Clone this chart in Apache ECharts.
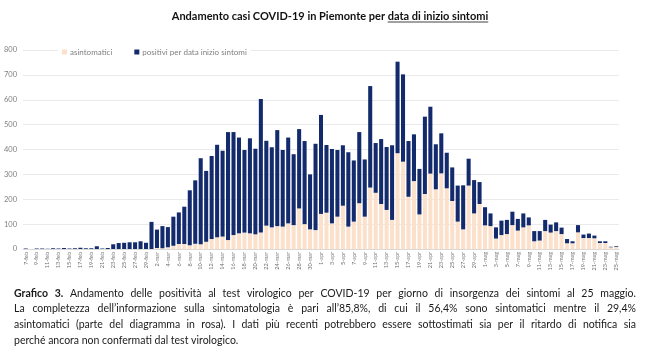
<!DOCTYPE html>
<html>
<head>
<meta charset="utf-8">
<script src="https://cdn.jsdelivr.net/npm/echarts@6/dist/echarts.min.js"></script>
<style>html,body{margin:0;padding:0;background:#fff}#c{width:650px;height:351px}</style>
</head>
<body>
<div id="c"></div>
<script>
const categories = [
'7-feb','8-feb','9-feb','10-feb','11-feb','12-feb','13-feb','14-feb','15-feb','16-feb','17-feb','18-feb','19-feb','20-feb','21-feb','22-feb','23-feb','24-feb','25-feb','26-feb','27-feb','28-feb','29-feb',
'1-mar','2-mar','3-mar','4-mar','5-mar','6-mar','7-mar','8-mar','9-mar','10-mar','11-mar','12-mar','13-mar','14-mar','15-mar','16-mar','17-mar','18-mar','19-mar','20-mar','21-mar','22-mar','23-mar','24-mar','25-mar','26-mar','27-mar','28-mar','29-mar','30-mar','31-mar',
'1-apr','2-apr','3-apr','4-apr','5-apr','6-apr','7-apr','8-apr','9-apr','10-apr','11-apr','12-apr','13-apr','14-apr','15-apr','16-apr','17-apr','18-apr','19-apr','20-apr','21-apr','22-apr','23-apr','24-apr','25-apr','26-apr','27-apr','28-apr','29-apr','30-apr',
'1-mag','2-mag','3-mag','4-mag','5-mag','6-mag','7-mag','8-mag','9-mag','10-mag','11-mag','12-mag','13-mag','14-mag','15-mag','16-mag','17-mag','18-mag','19-mag','20-mag','21-mag','22-mag','23-mag','24-mag','25-mag'
];
const asintomatici = [
0,0,0,0,0,0,0,0,0,0,0,0,0,0,0,0,0,0,0,0,0,0,0,
0,4,3,7,13,20,20,15,21,19,29,40,47,50,36,56,63,66,63,59,66,94,87,92,90,103,96,163,100,79,76,
141,146,103,130,174,90,110,184,130,247,226,181,157,117,385,351,210,273,139,221,303,240,304,244,193,110,79,255,143,181,
95,92,42,56,60,96,74,87,95,31,34,72,66,72,60,23,23,67,44,44,43,24,24,7,8
];
const positivi = [
2,0,2,2,1,3,2,4,2,3,5,3,3,11,2,4,19,24,25,27,27,31,25,
109,74,89,81,117,127,150,221,255,346,285,334,372,345,434,414,385,332,382,344,537,341,322,386,308,345,285,319,334,221,347,
398,272,299,268,243,299,246,286,230,408,200,261,253,300,368,351,224,188,183,311,269,181,161,143,135,145,177,108,134,88,
73,51,45,58,57,54,47,56,32,41,38,45,32,35,26,17,8,29,14,18,11,7,7,2,3
];
const yTicks = [0,100,200,300,400,500,600,700,800];
const legendNames = ['asintomatici','positivi per data inizio sintomi'];
const titleA = 'Andamento casi COVID-19 in Piemonte per ';
const titleB = 'data di inizio sintomi';
const captionLines = [
'Grafico 3. Andamento delle positività al test virologico per COVID-19 per giorno di insorgenza dei sintomi al 25 maggio.',
'La completezza dell\u2019informazione sulla sintomatologia è pari all\u201985,8%, di cui il 56,4% sono sintomatici mentre il 29,4%',
'asintomatici (parte del diagramma in rosa). I dati più recenti potrebbero essere sottostimati sia per il ritardo di notifica sia',
'perché ancora non confermati dal test virologico.'
];

const FAM = 'Lato, "Noto Sans", sans-serif';
const mctx = document.createElement('canvas').getContext('2d');
function tw(t, font){ mctx.font = font; return mctx.measureText(t).width; }

const titleFont = 'bold 11px ' + FAM;
const wA = tw(titleA, titleFont), wB = tw(titleB, titleFont);
const titleCenter = 330, titleY = 16;
const tStart = titleCenter - (wA + wB) / 2;

const graphics = [];
graphics.push({type:'text', x:tStart, y:titleY, style:{text:titleA + titleB, font:titleFont, fill:'#111', textVerticalAlign:'middle'}});
graphics.push({type:'line', shape:{x1:tStart + wA, y1:titleY + 6, x2:tStart + wA + wB, y2:titleY + 6}, style:{stroke:'#111', lineWidth:0.8}});

const capLeft = 14, capRight = 636, capTop = 293.5, capStep = 15.6;
const fN = '10.5px ' + FAM, fB = 'bold 10.5px ' + FAM;
captionLines.forEach(function(line, li){
  const words = line.split(' ');
  const fonts = words.map(function(w, i){ return (li === 0 && i < 2) ? fB : fN; });
  const widths = words.map(function(w, i){ return tw(w, fonts[i]); });
  const sum = widths.reduce(function(a,b){return a+b;}, 0);
  const last = li === captionLines.length - 1;
  const gap = last ? tw(' ', fN) : (capRight - capLeft - sum) / (words.length - 1);
  let x = capLeft;
  const y = capTop + li * capStep;
  words.forEach(function(w, i){
    graphics.push({type:'text', x:x, y:y, style:{text:w, font:fonts[i], fill:'#1a1a1a', textVerticalAlign:'middle'}});
    x += widths[i] + gap;
  });
});

const chart = echarts.init(document.getElementById('c'), null, {renderer:'canvas'});
chart.setOption({
  animation:false,
  grid:{left:23, right:31, top:50, bottom:102, containLabel:false},
  legend:{data:legendNames, left:58, top:46, icon:'rect', itemWidth:5, itemHeight:5, itemGap:22,
    padding:[2,4], backgroundColor:'#ffffff',
    textStyle:{fontSize:8, color:'#7f7f7f', fontFamily:FAM, padding:[0,0,0,-2]}},
  xAxis:{type:'category', data:categories,
    axisTick:{show:false}, axisLine:{show:true, lineStyle:{color:'#d9d9d9'}},
    axisLabel:{interval:1, rotate:90, fontSize:5.5, color:'#6f6f6f', margin:3, fontFamily:FAM}},
  yAxis:{type:'value', min:0, max:800, interval:100,
    axisLabel:{fontSize:7.5, color:'#7f7f7f', margin:6, fontFamily:FAM,
      formatter:function(v){ return yTicks.indexOf(v) >= 0 ? String(v) : ''; }},
    splitLine:{lineStyle:{color:'#e4e4e4', width:0.8}}, axisLine:{show:false}, axisTick:{show:false}},
  series:[
    {name:legendNames[0], type:'bar', stack:'t', data:asintomatici, barCategoryGap:'26%',
      itemStyle:{color:'#fbe0cb'}},
    {name:legendNames[1], type:'bar', stack:'t', data:positivi, barCategoryGap:'26%',
      itemStyle:{color:'#132a6c'}}
  ],
  graphic:graphics
});
</script>
</body>
</html>
